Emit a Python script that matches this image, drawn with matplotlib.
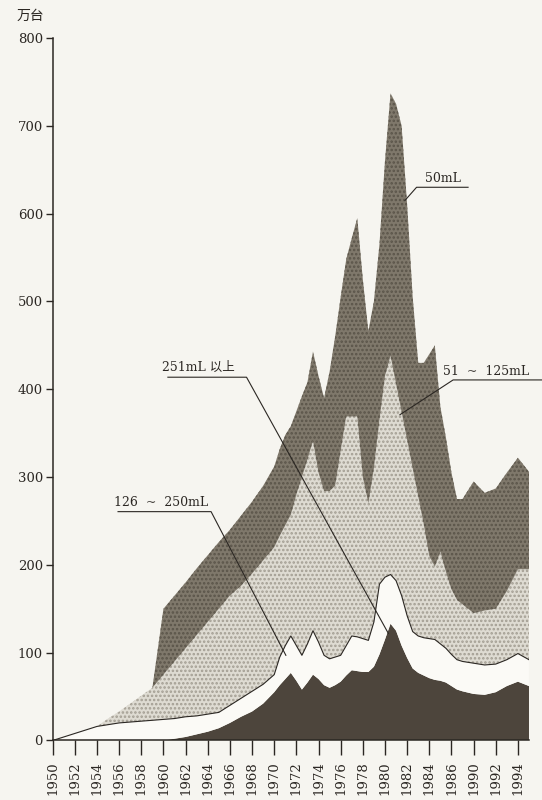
import numpy as np
import matplotlib
matplotlib.use("Agg")
import matplotlib.pyplot as plt

# ---- data (values in 万台) ----
axis_pos = [1950, 1951, 1952, 1953, 1954, 1955, 1956, 1957, 1958, 1959,
            1960, 1961, 1962, 1963, 1964, 1965, 1966, 1967, 1968, 1969,
            1970, 1970.5, 1971, 1971.5, 1972, 1972.5, 1973, 1973.5, 1974, 1974.5,
            1975, 1975.5, 1976, 1976.5, 1977, 1977.5, 1978, 1978.5, 1979, 1979.5,
            1980, 1980.5, 1981, 1981.5, 1982, 1982.5, 1983, 1983.5, 1984, 1984.5,
            1985, 1985.5, 1986, 1986.5, 1987,
            1988, 1989, 1990, 1991, 1992, 1993]

cc_251_up = [0, 0, 0, 0, 0, 0, 0, 0, 0, 0, 0, 2, 4, 7, 10, 14, 20, 27, 33, 42,
             55, 63, 70, 77, 68, 58, 66, 75, 70, 63, 60, 63, 67, 74, 80, 79, 78, 78, 84, 98,
             115, 133, 125, 108, 94, 82, 77, 74, 71, 69, 68, 66, 62, 58, 56,
             53, 52, 55, 62, 67, 62]
cc_126_250 = [0, 4, 8, 12, 16, 18, 20, 21, 22, 23, 24, 23, 23, 21, 20, 18, 20, 21, 23, 22,
              20, 32, 38, 42, 40, 39, 44, 50, 42, 34, 33, 32, 30, 34, 39, 39, 38, 36, 51, 80,
              71, 56, 57, 57, 48, 42, 42, 43, 45, 46, 42, 39, 36, 34, 34,
              35, 34, 32, 30, 32, 30]
cc_51_125 = [0, 0, 0, 0, 0, 7, 13, 21, 29, 37, 51, 65, 78, 92, 105, 118, 125, 128, 134, 141,
             145, 138, 137, 138, 172, 203, 210, 216, 193, 187, 191, 195, 233, 261, 250, 251, 184, 156, 175, 187,
             229, 249, 224, 209, 200, 186, 159, 129, 94, 83, 105, 87, 74, 68, 65,
             57, 62, 63, 78, 96, 103]
cc_50 = [0, 0, 0, 0, 0, 0, 0, 0, 0, 0, 75, 75, 75, 76, 76, 76, 75, 80, 82, 85,
         92, 99, 103, 101, 95, 92, 88, 102, 110, 106, 136, 170, 175, 179, 203, 226, 225, 196, 190, 200,
         245, 299, 319, 326, 268, 195, 152, 184, 230, 252, 165, 153, 133, 115, 120,
         150, 134, 137, 135, 127, 111]

tick_pos = [1950, 1952, 1954, 1956, 1958, 1960, 1962, 1964, 1966, 1968, 1970,
            1972, 1974, 1976, 1978, 1980, 1982, 1984, 1986, 1988, 1990, 1992]
tick_labels = ["1950", "1952", "1954", "1956", "1958", "1960", "1962", "1964",
               "1966", "1968", "1970", "1972", "1974", "1976", "1978", "1980",
               "1982", "1984", "1986", "1990", "1992", "1994"]
y_ticks = [0, 100, 200, 300, 400, 500, 600, 700, 800]

# ---- style ----
paper = "#f6f5f0"
ink = "#2b2723"
plt.rcParams["hatch.linewidth"] = 1.2

fig = plt.figure(figsize=(5.42, 8.0), dpi=100, facecolor=paper)
ax = fig.add_axes([0.0972, 0.0744, 0.8788, 0.8781], facecolor=paper)

polys = ax.stackplot(axis_pos, cc_251_up, cc_126_250, cc_51_125, cc_50,
                     colors=["#4d453c", "#fbfaf6", "#dedbd2", "#7f786b"],
                     linewidth=0)
polys[2].set_hatch("....")
polys[2].set_edgecolor("#a29d92")
polys[2].set_linewidth(0)
polys[3].set_hatch("....")
polys[3].set_edgecolor("#5a5449")
polys[3].set_linewidth(0)

# outline along top of the white band
band_top = np.array(cc_251_up) + np.array(cc_126_250)
ax.plot(axis_pos, band_top, color=ink, lw=0.8)

ax.set_xlim(1950, 1993)
ax.set_ylim(0, 800)
for s in ["top", "right"]:
    ax.spines[s].set_visible(False)
for s in ["left", "bottom"]:
    ax.spines[s].set_color(ink)
    ax.spines[s].set_linewidth(1.1)

serif = "DejaVu Serif"
ax.set_yticks(y_ticks)
ax.set_yticklabels([str(v) for v in y_ticks], family=serif, fontsize=9.5, color=ink)
ax.set_xticks(tick_pos)
ax.set_xticklabels(tick_labels, rotation=90, family=serif, fontsize=9.5, color=ink)
ax.tick_params(axis="y", direction="out", length=5, width=1, color=ink, pad=2)
ax.tick_params(axis="x", direction="out", length=11, width=1, color=ink, pad=4)

fig.text(0.057, 0.98, "万台", family=["Noto Sans CJK SC"], fontsize=10,
         color=ink, ha="center", va="center")

lab_font = [serif, "Noto Sans CJK SC"]
lw = 0.8

# 50mL
ax.text(1983.6, 633, "50mL", family=lab_font, fontsize=9, color=ink, va="bottom")
ax.plot([1987.5, 1982.85, 1981.8], [630, 630, 615], color=ink, lw=lw, clip_on=False)

# 51 ~ 125mL
ax.text(1985.2, 413, "51  ~  125mL", family=lab_font, fontsize=9, color=ink,
        va="bottom", clip_on=False)
ax.plot([1994.2, 1986.15, 1981.35], [410.6, 410.6, 371], color=ink, lw=lw, clip_on=False)

# 251mL 以上
ax.text(1959.9, 417, "251mL 以上", family=lab_font, fontsize=9, color=ink, va="bottom")
ax.plot([1960.4, 1967.5, 1980.3], [413.7, 413.7, 122], color=ink, lw=lw)

# 126 ~ 250mL
ax.text(1955.5, 264, "126  ~  250mL", family=lab_font, fontsize=9, color=ink, va="bottom")
ax.plot([1955.9, 1964.3, 1971.05], [260.6, 260.6, 97], color=ink, lw=lw)

fig.savefig("out.png", dpi=100, facecolor=paper)
